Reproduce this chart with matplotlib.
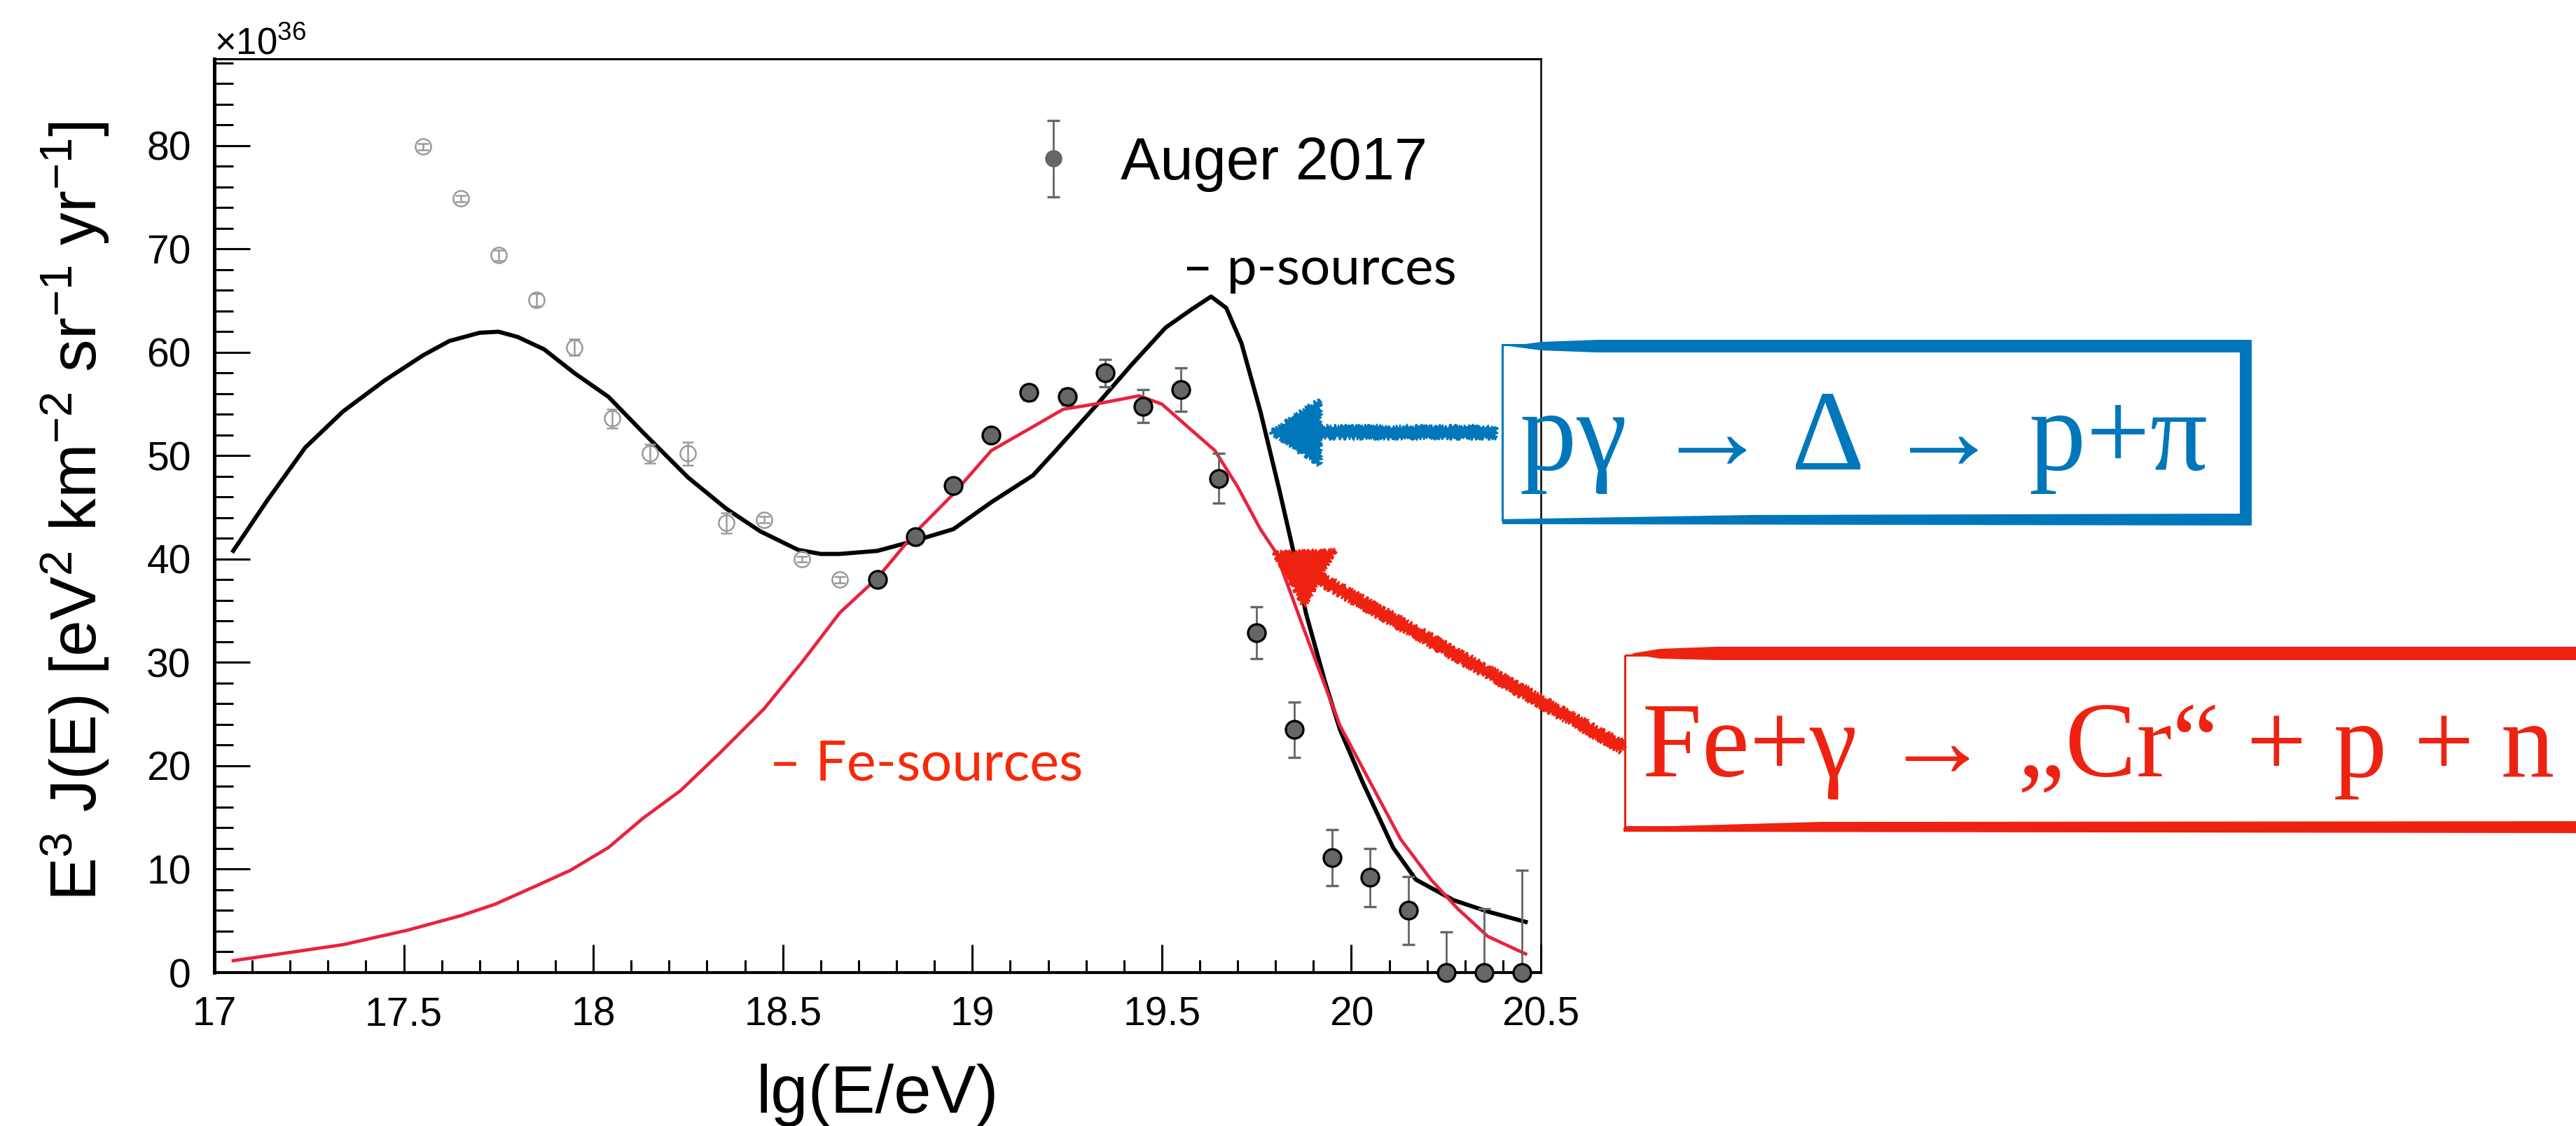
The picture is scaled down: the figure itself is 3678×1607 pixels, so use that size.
import numpy as np
import matplotlib
matplotlib.use("Agg")
import matplotlib.pyplot as plt
import matplotlib.patches as mpatches
import matplotlib.transforms as mtransforms
from matplotlib.ticker import MultipleLocator
from matplotlib.container import ErrorbarContainer
from matplotlib.legend_handler import HandlerErrorbar

W, H = 3678, 1607

# Auger 2017 spectrum, E^3 J(E) in units of 1e36 eV^2 km^-2 sr^-1 yr^-1
lgE_low = [17.55, 17.65, 17.75, 17.85, 17.95, 18.05, 18.15, 18.25, 18.35, 18.45, 18.55, 18.65]
flux_low = [79.9, 74.9, 69.4, 65.1, 60.5, 53.6, 50.2, 50.2, 43.5, 43.8, 40.0, 38.0]
err_low = [0.3, 0.3, 0.5, 0.6, 0.8, 0.9, 0.9, 1.1, 1.0, 0.3, 0.3, 0.3]

lgE_auger = [18.75, 18.85, 18.95, 19.05, 19.15, 19.25, 19.35, 19.45, 19.55,
             19.65, 19.75, 19.85, 19.95, 20.05, 20.15, 20.25, 20.35, 20.45]
flux_auger = [38.0, 42.2, 47.1, 52.0, 56.1, 55.7, 58.0, 54.8, 56.4,
              47.8, 32.9, 23.5, 11.1, 9.2, 6.0, 0.0, 0.0, 0.0]
err_auger_lo = [0.5, 0.5, 0.5, 0.6, 0.7, 0.8, 1.3, 1.6, 2.1,
                2.4, 2.5, 2.7, 2.7, 2.8, 3.3, 0.0, 0.0, 0.0]
err_auger_hi = [0.5, 0.5, 0.5, 0.6, 0.7, 0.8, 1.3, 1.6, 2.1,
                2.4, 2.5, 2.7, 2.7, 2.8, 3.3, 3.9, 6.2, 9.9]

# model: pure proton sources
lgE_p = [17.05, 17.14, 17.24, 17.34, 17.45, 17.55, 17.62, 17.70, 17.75, 17.80,
         17.87, 17.95, 18.04, 18.13, 18.25, 18.35, 18.44, 18.54, 18.60, 18.65,
         18.75, 18.85, 18.95, 19.05, 19.16, 19.22, 19.33, 19.42, 19.51, 19.58,
         19.63, 19.67, 19.71, 19.76, 19.81, 19.85, 19.88, 19.93, 19.97, 20.03,
         20.11, 20.17, 20.27, 20.36, 20.46]
flux_p = [40.8, 45.7, 50.8, 54.3, 57.3, 59.7, 61.1, 61.9, 62.0, 61.5,
          60.3, 58.0, 55.7, 52.3, 47.9, 44.9, 42.7, 40.9, 40.5, 40.5,
          40.8, 41.8, 42.9, 45.5, 48.1, 50.5, 55.0, 58.8, 62.4, 64.2,
          65.4, 64.3, 60.9, 54.3, 46.7, 40.3, 34.8, 28.2, 23.5, 18.4,
          12.1, 9.0, 7.0, 5.9, 4.9]

# model: pure iron sources
lgE_fe = [17.05, 17.20, 17.34, 17.51, 17.65, 17.74, 17.85, 17.94, 18.04, 18.13,
          18.23, 18.33, 18.45, 18.55, 18.65, 18.75, 18.85, 18.95, 19.05, 19.15,
          19.24, 19.34, 19.44, 19.50, 19.59, 19.64, 19.70, 19.76, 19.80, 19.87,
          19.93, 19.97, 20.05, 20.13, 20.21, 20.28, 20.36, 20.46]
flux_fe = [1.15, 1.95, 2.7, 4.1, 5.5, 6.6, 8.4, 9.9, 12.1, 14.9,
           17.6, 21.1, 25.5, 30.0, 34.8, 38.2, 42.6, 46.3, 50.5, 52.6,
           54.5, 55.1, 55.8, 55.0, 52.1, 50.5, 47.0, 42.9, 40.7, 33.7,
           27.8, 23.9, 18.4, 12.9, 9.0, 6.2, 3.5, 1.8]

x_ticks = [17, 17.5, 18, 18.5, 19, 19.5, 20, 20.5]
x_ticklabels = ["17", "17.5", "18", "18.5", "19", "19.5", "20", "20.5"]
y_ticks = [0, 10, 20, 30, 40, 50, 60, 70, 80]

BLUE = "#0077BB"
RED = "#EE2211"

plt.rcParams["font.family"] = ["Liberation Sans", "DejaVu Sans"]
plt.rcParams["mathtext.fontset"] = "custom"
plt.rcParams["mathtext.rm"] = "Liberation Sans"
plt.rcParams["mathtext.it"] = "Liberation Sans"
plt.rcParams["mathtext.default"] = "regular"

fig = plt.figure(figsize=(W / 100, H / 100), dpi=100)
fig.patch.set_facecolor("white")
ax = fig.add_axes([306 / W, 1 - 1388 / H, (2200 - 306) / W, (1388 - 84) / H])

# pixel coordinates measured from the top-left corner, for the slide annotations
px = mtransforms.Affine2D().scale(1 / W, -1 / H).translate(0, 1) + fig.transFigure

ax.plot(lgE_p, flux_p, color="black", lw=4.3, solid_joinstyle="round", zorder=3)
ax.plot(lgE_fe, flux_fe, color="#E8233C", lw=3.4, solid_joinstyle="round", zorder=3)

ax.errorbar(lgE_low, flux_low, yerr=err_low, fmt="o", ms=16, mfc="none",
            mec="#9a9a9a", mew=1.8, ecolor="#9a9a9a", elinewidth=1.8,
            capsize=6, capthick=2, zorder=4)
auger = ax.errorbar(lgE_auger, flux_auger, yerr=[err_auger_lo, err_auger_hi],
                    fmt="o", ms=18, mfc="#666666", mec="black", mew=2.4,
                    ecolor="#666666", elinewidth=2, capsize=6.5, capthick=2.4,
                    clip_on=False, zorder=5)

ax.set_xlim(17, 20.5)
ax.set_ylim(0, 88.4)
ax.set_xticks(x_ticks)
ax.set_xticklabels(x_ticklabels)
ax.set_yticks(y_ticks)
ax.xaxis.set_minor_locator(MultipleLocator(0.1))
ax.yaxis.set_minor_locator(MultipleLocator(2))
ax.tick_params(which="both", direction="in", top=False, right=False, width=2.2,
               labelsize=41)
ax.tick_params(axis="y", which="major", length=37, pad=24)
ax.tick_params(axis="y", which="minor", length=19.5)
ax.tick_params(axis="x", which="major", length=29, pad=24)
ax.tick_params(axis="x", which="minor", length=13)
ax.spines["left"].set_linewidth(3.6)
ax.spines["bottom"].set_linewidth(3.0)
ax.spines["top"].set_linewidth(2.2)
ax.spines["right"].set_linewidth(1.8)

ax.set_xlabel("lg(E/eV)", fontsize=69, va="baseline")
ax.xaxis.set_label_coords(0.5, -0.1534)
ax.set_ylabel(r"E$^{3}$ J(E) [eV$^{2}$ km$^{-2}$ sr$^{-1}$ yr$^{-1}$]",
              fontsize=67, va="baseline")
ax.yaxis.set_label_coords(-0.0887, 0.5046)

fig.text(306, 77, r"×10$^{36}$", transform=px, fontsize=38, va="baseline")


def legend_marker_style(legend_handle, orig_handle):
    # legend symbol is drawn without the black marker outline
    legend_handle.update_from(orig_handle)
    if hasattr(legend_handle, "set_markeredgecolor"):
        legend_handle.set_markeredgecolor("#666666")


ax.legend([auger], ["Auger 2017"], loc="center left", bbox_to_anchor=(0.619, 0.885),
          frameon=False, fontsize=61, handlelength=0.6, handletextpad=0.83,
          borderpad=0, borderaxespad=0, numpoints=1, markerscale=0.85,
          handler_map={ErrorbarContainer: HandlerErrorbar(
              yerr_size=0.64, update_func=legend_marker_style)})

# curve labels
fig.text(1688, 406, "– p-sources", transform=px, fontsize=55,
         family=["Lato", "DejaVu Sans"], va="baseline", color="black")
fig.text(1098, 1113, "– Fe-sources", transform=px, fontsize=57,
         family=["Lato", "DejaVu Sans"], va="baseline", color="#F7290A")

serif = ["Liberation Serif", "DejaVu Serif"]

# blue box: photopion production
fig.add_artist(mpatches.Rectangle((2145, 492), 1060, 250, transform=px, fill=False,
                                  ec=BLUE, lw=2.2))
fig.add_artist(mpatches.Polygon([(2155, 494), (2200, 488), (2280, 485), (3215, 485),
                                 (3215, 503), (2280, 503), (2200, 500)],
                                closed=True, transform=px, fc=BLUE, ec="none"))
fig.add_artist(mpatches.Rectangle((3198, 485), 17, 265, transform=px, fc=BLUE, ec="none"))
fig.add_artist(mpatches.Polygon([(2145, 741), (2500, 735), (3215, 733), (3215, 750),
                                 (2145, 748)], closed=True, transform=px,
                                fc=BLUE, ec="none"))
fig.text(2170, 670, "pγ → Δ → p+π", transform=px, fontsize=117,
         family=serif, va="baseline", color=BLUE)
blue_arrow = mpatches.FancyArrow(2136, 617, 1813 - 2136, 0, width=16, head_width=95,
                                 head_length=72, length_includes_head=True,
                                 transform=px, fc=BLUE, ec=BLUE, lw=1.5)
blue_arrow.set_sketch_params(scale=3, length=6, randomness=4)
fig.add_artist(blue_arrow)

# red box: photodisintegration of iron
fig.add_artist(mpatches.Rectangle((2320, 935), 1400, 245, transform=px, fill=False,
                                  ec=RED, lw=2.2))
fig.add_artist(mpatches.Polygon([(2328, 933), (2370, 926), (2450, 923), (3700, 923),
                                 (3700, 942), (2450, 942), (2370, 940)],
                                closed=True, transform=px, fc=RED, ec="none"))
fig.add_artist(mpatches.Polygon([(2318, 1181), (2600, 1173), (3700, 1172), (3700, 1189),
                                 (2318, 1187)], closed=True, transform=px,
                                fc=RED, ec="none"))
fig.text(2345, 1108, "Fe+γ → „Cr“ + p + n", transform=px, fontsize=110,
         family=serif, va="baseline", color=RED)
red_arrow = mpatches.FancyArrow(2318, 1067, 1818 - 2318, 789 - 1067, width=15,
                                head_width=92, head_length=76, length_includes_head=True,
                                transform=px, fc=RED, ec=RED, lw=1.5)
red_arrow.set_sketch_params(scale=3, length=6, randomness=4)
fig.add_artist(red_arrow)

fig.savefig("out.png", dpi=100, facecolor="white")
